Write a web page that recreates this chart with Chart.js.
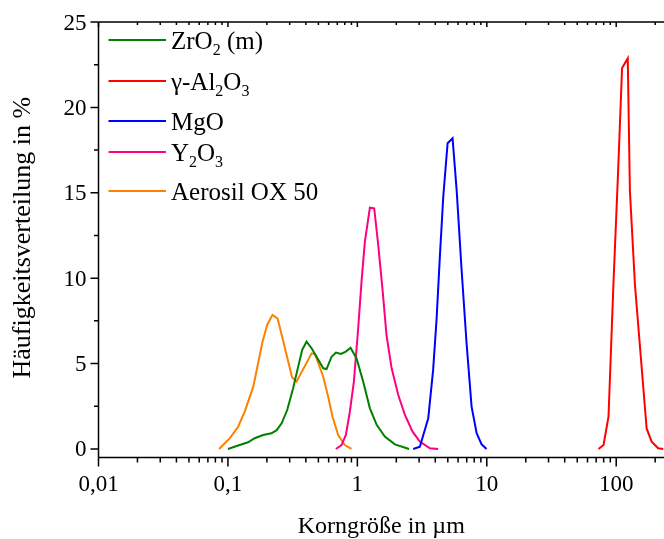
<!DOCTYPE html>
<html>
<head>
<meta charset="utf-8">
<script src="https://cdn.jsdelivr.net/npm/chart.js@4"></script>
<style>
  html, body { margin: 0; padding: 0; background: #fff; }
</style>
</head>
<body>
<canvas id="grafico" width="664" height="539"></canvas>
<script>
// Dados (Korngröße em µm, Häufigkeit em %)
const zrX = [0.1, 0.12, 0.143, 0.161, 0.187, 0.217, 0.238, 0.26, 0.287, 0.319, 0.349, 0.375, 0.405, 0.443, 0.484, 0.545, 0.578, 0.632, 0.683, 0.746, 0.815, 0.886, 0.986, 1.11, 1.25, 1.41, 1.63, 1.95, 2.51];
const zrY = [0, 0.2, 0.39, 0.63, 0.82, 0.92, 1.1, 1.5, 2.28, 3.55, 4.82, 5.8, 6.28, 5.9, 5.4, 4.72, 4.68, 5.4, 5.64, 5.56, 5.7, 5.93, 5.3, 3.94, 2.38, 1.41, 0.72, 0.27, 0];

const alX = [73, 79.8, 87.2, 95, 103.5, 111, 122.8, 127.6, 139.6, 171.8, 187.8, 211, 230.9];
const alY = [0, 0.23, 1.89, 9.5, 16.3, 22.3, 22.87, 15.1, 9.6, 1.2, 0.43, 0.04, 0];

const mgX = [2.70, 3.04, 3.53, 3.85, 4.09, 4.34, 4.61, 4.98, 5.44, 5.85, 6.39, 6.98, 7.63, 8.35, 9.12, 9.96];
const mgY = [0, 0.13, 1.8, 4.63, 7.55, 11.26, 14.77, 17.9, 18.19, 15.16, 10.48, 6.19, 2.48, 0.92, 0.27, 0];

const yX = [0.682, 0.755, 0.815, 0.875, 0.94, 1.015, 1.077, 1.143, 1.25, 1.35, 1.45, 1.57, 1.68, 1.84, 2.07, 2.33, 2.67, 3.04, 3.63, 4.21];
const yY = [0, 0.23, 0.82, 2.18, 3.94, 7.07, 9.8, 12.14, 14.13, 14.09, 11.94, 9.21, 6.67, 4.72, 3.16, 1.99, 1.01, 0.43, 0.04, 0];

const aeX = [0.0855, 0.1035, 0.12, 0.135, 0.157, 0.185, 0.201, 0.221, 0.2417, 0.27, 0.313, 0.339, 0.443, 0.47, 0.545, 0.595, 0.643, 0.711, 0.80, 0.90];
const aeY = [0, 0.63, 1.3, 2.2, 3.65, 6.28, 7.26, 7.85, 7.65, 6.19, 4.2, 3.94, 5.6, 5.56, 4.23, 3.06, 1.89, 0.82, 0.23, 0];

// Legenda (texto com índices)
const nomes = [
  [['ZrO'], ['2', 1], [' (m)']],
  [['γ-Al'], ['2', 1], ['O'], ['3', 1]],
  [['MgO']],
  [['Y'], ['2', 1], ['O'], ['3', 1]],
  [['Aerosil OX 50']]
];
const cores = ['#008000', '#ff0000', '#0000ff', '#ff0080', '#ff8000'];

// Eixos
const xMajor = [0.01, 0.1, 1, 10, 100];
const xRotulos = ['0,01', '0,1', '1', '10', '100'];
const yMajor = [0, 5, 10, 15, 20, 25];
const yMinor = [2.5, 7.5, 12.5, 17.5, 22.5];

const series = [[zrX, zrY], [alX, alY], [mgX, mgY], [yX, yY], [aeX, aeY]];

const FONTE = '"Liberation Serif", "Times New Roman", serif';

const eixos = {
  id: 'eixos',
  afterDraw(chart) {
    const c = chart.ctx;
    const a = chart.chartArea;
    const sx = chart.scales.x, sy = chart.scales.y;
    c.save();
    c.strokeStyle = '#000';
    c.fillStyle = '#000';
    c.lineWidth = 1.5;

    // linhas dos eixos
    c.beginPath();
    c.moveTo(a.left, a.top); c.lineTo(a.left, a.bottom);
    c.moveTo(a.left, a.bottom); c.lineTo(a.right, a.bottom);
    c.moveTo(a.left, a.top); c.lineTo(a.right, a.top);
    c.stroke();

    // ticks x (principais e secundários)
    c.beginPath();
    for (let d = -2; d <= 2; d++) {
      for (let m = 1; m <= 9; m++) {
        const v = m * Math.pow(10, d);
        if (v > sx.max) break;
        const px = sx.getPixelForValue(v);
        const len = m === 1 ? 9 : 5;
        c.moveTo(px, a.bottom); c.lineTo(px, a.bottom + len);
        c.moveTo(px, a.top); c.lineTo(px, a.top + (m === 1 ? 5 : 3));
      }
    }
    // ticks y
    yMajor.forEach(v => {
      const py = sy.getPixelForValue(v);
      c.moveTo(a.left, py); c.lineTo(a.left - 8, py);
    });
    yMinor.forEach(v => {
      const py = sy.getPixelForValue(v);
      c.moveTo(a.left, py); c.lineTo(a.left - 4.5, py);
    });
    c.stroke();

    // rótulos
    c.font = '23px ' + FONTE;
    c.textAlign = 'center';
    c.textBaseline = 'alphabetic';
    xMajor.forEach((v, i) => {
      c.fillText(xRotulos[i], sx.getPixelForValue(v), 491);
    });
    c.textAlign = 'right';
    yMajor.forEach(v => {
      c.fillText(String(v), a.left - 12, sy.getPixelForValue(v) + 7.5);
    });

    // títulos
    c.font = '24px ' + FONTE;
    c.textAlign = 'center';
    c.fillText('Korngröße in µm', (a.left + a.right) / 2, 533);
    c.save();
    c.font = '26px ' + FONTE;
    c.translate(30, (a.top + a.bottom) / 2 - 2);
    c.rotate(-Math.PI / 2);
    c.fillText('Häufigkeitsverteilung in %', 0, 0);
    c.restore();

    // legenda
    const ly = [40, 81, 121, 152, 191];
    c.textAlign = 'left';
    nomes.forEach((partes, i) => {
      c.strokeStyle = cores[i];
      c.lineWidth = 2;
      c.beginPath();
      c.moveTo(108.5, ly[i]); c.lineTo(166, ly[i]);
      c.stroke();
      let x = 171;
      partes.forEach(([t, sub]) => {
        c.font = (sub ? '16px ' : '25px ') + FONTE;
        c.fillText(t, x, ly[i] + 8.5 + (sub ? 6 : 0));
        x += c.measureText(t).width;
      });
    });
    c.restore();
  }
};

const ctx = document.getElementById('grafico').getContext('2d');
const chart = new Chart(ctx, {
  type: 'line',
  data: {
    datasets: series.map(([xs, ys], i) => ({
      label: nomes[i].map(p => p[0]).join(''),
      data: xs.map((x, k) => ({ x: x, y: ys[k] })),
      borderColor: cores[i],
      borderWidth: 2,
      pointRadius: 0,
      tension: 0,
      fill: false
    }))
  },
  options: {
    responsive: false,
    animation: false,
    devicePixelRatio: 1,
    layout: { padding: { left: 98.5, top: 22, right: 0, bottom: 81.5 } },
    scales: {
      x: { type: 'logarithmic', min: 0.01, max: 234, display: false },
      y: { type: 'linear', min: -0.5, max: 25, display: false }
    },
    plugins: { legend: { display: false }, tooltip: { enabled: false } }
  },
  plugins: [eixos]
});
</script>
</body>
</html>
